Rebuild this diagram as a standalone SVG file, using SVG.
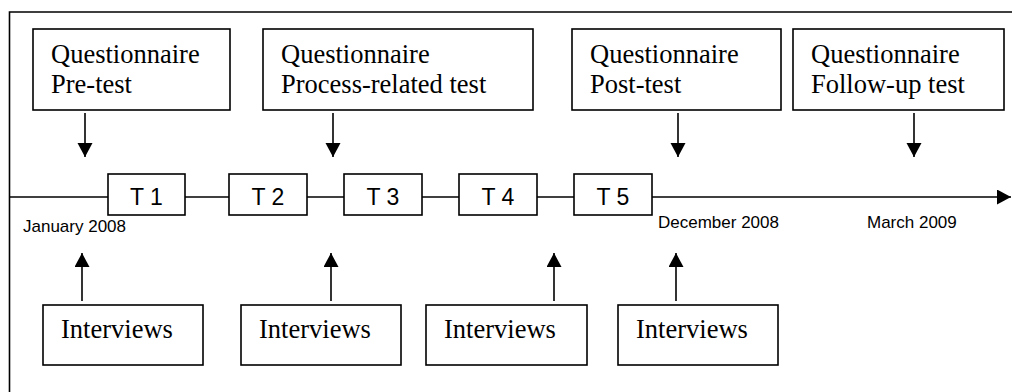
<svg xmlns="http://www.w3.org/2000/svg" width="1012" height="392" viewBox="0 0 1012 392">
<style>
.box{fill:#fff;stroke:#000;stroke-width:1.6}
.ln{stroke:#000;stroke-width:1.6;fill:none}
.tr{font-family:"Liberation Serif","Times New Roman",serif;font-size:26.5px;fill:#000}
.ar{font-family:"Liberation Sans",Arial,sans-serif;fill:#000}
.tl{font-size:23px}
.dt{font-size:17px}
</style>
<defs>
<marker id="ah" markerUnits="userSpaceOnUse" markerWidth="16" markerHeight="16" refX="14" refY="7.5" orient="auto">
<path d="M0,0 L14,7.5 L0,15 Z" fill="#000"/>
</marker>
</defs>
<path class="ln" d="M9.5,392 V12 H1012"/>
<g id="connectors">
<line class="ln" x1="9" y1="197" x2="1011" y2="197" marker-end="url(#ah)"/>
<line class="ln" x1="85" y1="113" x2="85" y2="157" marker-end="url(#ah)"/>
<line class="ln" x1="333" y1="113" x2="333" y2="157" marker-end="url(#ah)"/>
<line class="ln" x1="678" y1="113" x2="678" y2="157" marker-end="url(#ah)"/>
<line class="ln" x1="914" y1="113" x2="914" y2="157" marker-end="url(#ah)"/>
<line class="ln" x1="82" y1="301" x2="82" y2="253" marker-end="url(#ah)"/>
<line class="ln" x1="331" y1="301" x2="331" y2="253" marker-end="url(#ah)"/>
<line class="ln" x1="554" y1="301" x2="554" y2="253" marker-end="url(#ah)"/>
<line class="ln" x1="676" y1="301" x2="676" y2="253" marker-end="url(#ah)"/>
</g>
<g id="q1"><rect class="box" x="33" y="29" width="197" height="81"/><text class="tr" x="51" y="63">Questionnaire</text><text class="tr" x="51" y="93">Pre-test</text></g>
<g id="q2"><rect class="box" x="263" y="29" width="270" height="81"/><text class="tr" x="281" y="63">Questionnaire</text><text class="tr" x="281" y="93">Process-related test</text></g>
<g id="q3"><rect class="box" x="572" y="29" width="209" height="81"/><text class="tr" x="590" y="63">Questionnaire</text><text class="tr" x="590" y="93">Post-test</text></g>
<g id="q4"><rect class="box" x="793" y="29" width="211" height="81"/><text class="tr" x="811" y="63">Questionnaire</text><text class="tr" x="811" y="93">Follow-up test</text></g>
<g id="t1"><rect class="box" x="108" y="174" width="77" height="41"/><text class="ar tl" x="146.5" y="205" text-anchor="middle">T 1</text></g>
<g id="t2"><rect class="box" x="229" y="174" width="78" height="41"/><text class="ar tl" x="268" y="205" text-anchor="middle">T 2</text></g>
<g id="t3"><rect class="box" x="344" y="174" width="78" height="41"/><text class="ar tl" x="383" y="205" text-anchor="middle">T 3</text></g>
<g id="t4"><rect class="box" x="459" y="174" width="78" height="41"/><text class="ar tl" x="498" y="205" text-anchor="middle">T 4</text></g>
<g id="t5"><rect class="box" x="574" y="174" width="78" height="41"/><text class="ar tl" x="613" y="205" text-anchor="middle">T 5</text></g>
<g id="dates">
<text class="ar dt" x="23" y="232">January 2008</text>
<text class="ar dt" x="658" y="228">December 2008</text>
<text class="ar dt" x="867" y="228">March 2009</text>
</g>
<g id="i1"><rect class="box" x="43" y="305" width="160" height="60"/><text class="tr" x="61" y="338">Interviews</text></g>
<g id="i2"><rect class="box" x="241" y="305" width="160" height="60"/><text class="tr" x="259" y="338">Interviews</text></g>
<g id="i3"><rect class="box" x="426" y="305" width="161" height="60"/><text class="tr" x="444" y="338">Interviews</text></g>
<g id="i4"><rect class="box" x="618" y="305" width="160" height="60"/><text class="tr" x="636" y="338">Interviews</text></g>
</svg>
